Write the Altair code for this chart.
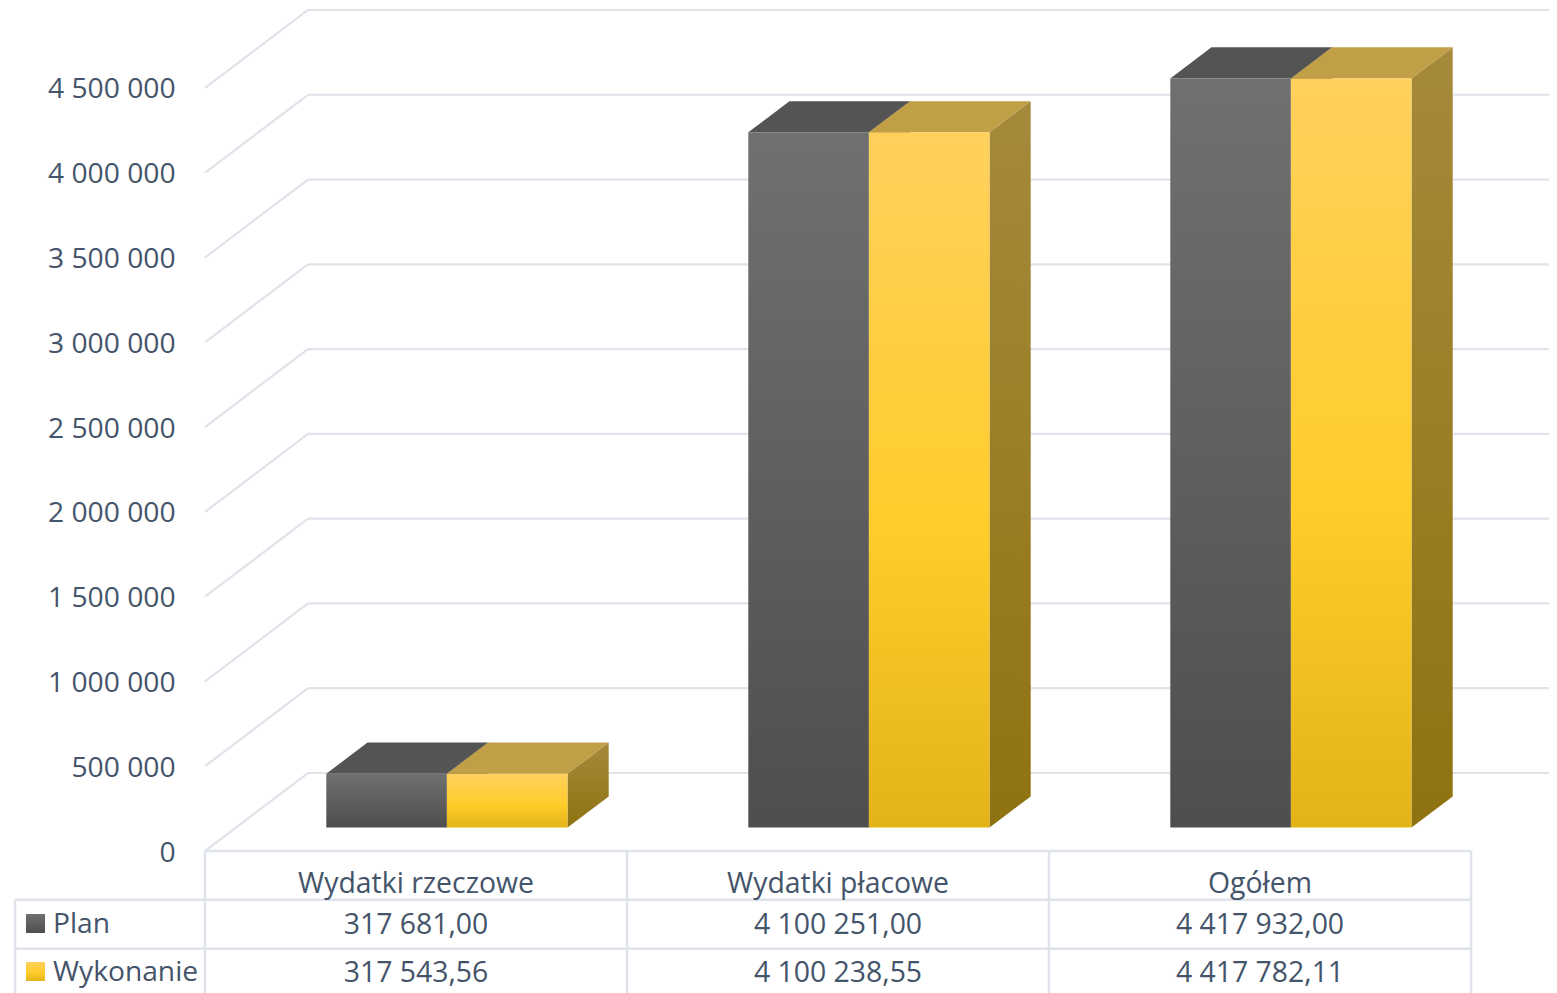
import altair as alt
import pandas as pd

categories = ["Wydatki rzeczowe", "Wydatki płacowe", "Ogółem"]
plan = [317681.00, 4100251.00, 4417932.00]
wykonanie = [317543.56, 4100238.55, 4417782.11]
plan_labels = ["317 681,00", "4 100 251,00", "4 417 932,00"]
wykonanie_labels = ["317 543,56", "4 100 238,55", "4 417 782,11"]
ticks = [0, 500000, 1000000, 1500000, 2000000, 2500000, 3000000, 3500000, 4000000, 4500000]

FONT = "Open Sans"
TEXT = "#44546a"
GRID = "#dfe3ea"
# Oblique projection: one full depth unit, in x-scale and y-scale units
DX = 103 / 422
DY = 460000
X_MAX = 1344 / 422
Y_MAX = 843 / 84.78 * 500000
BAR_W = 0.2858
NEAR, FAR = 0.3, 0.7

VALUE_AXIS = alt.Axis(values=ticks, title=None, grid=False, domain=False, ticks=False,
                      labelFont=FONT, labelFontSize=28.2, labelColor=TEXT, labelPadding=30,
                      labelOffset=2,
                      labelExpr="replace(format(datum.value, ','), /,/g, ' ')")


def X(f):
    return alt.X(f, type="quantitative", stack=False, axis=None,
                 scale=alt.Scale(domain=[0, X_MAX], nice=False, zero=False))


def Y(f):
    return alt.Y(f, type="quantitative", stack=False, axis=VALUE_AXIS,
                 scale=alt.Scale(domain=[0, Y_MAX], nice=False, zero=False))


def R(f):
    return alt.Y(f, type="quantitative", axis=None,
                 scale=alt.Scale(domain=[0, 3], range=[843, 989.5], nice=False, zero=False))


def grad(stops):
    return alt.Gradient(gradient="linear", x1=0, y1=0, x2=0, y2=1,
                        stops=[alt.GradientStop(offset=o, color=c) for o, c in stops])


# ---------- walls ----------
back = pd.DataFrame({"x": DX, "x2": X_MAX, "y": [t + DY for t in ticks]})
diag = pd.DataFrame({"x": 0.0, "x2": DX, "y": ticks, "y2": [t + DY for t in ticks]})
back_rules = alt.Chart(back).mark_rule(color=GRID, strokeWidth=2.2).encode(
    x=X("x"), x2="x2", y=Y("y"))
diag_rules = alt.Chart(diag).mark_rule(color=GRID, strokeWidth=2.2).encode(
    x=X("x"), x2="x2", y=Y("y"), y2="y2")


# ---------- bars ----------
def bar_layers(values, offset, front_stops, top_color, side_stops):
    base = NEAR * DY
    layers, fronts = [], []
    depth_x, depth_y = (FAR - NEAR) * DX, (FAR - NEAR) * DY
    for i, v in enumerate(values):
        xl = i + 0.5 + NEAR * DX + offset * BAR_W
        xr = xl + BAR_W
        top = base + v
        fronts.append({"x": xl, "x2": xr, "y": base, "y2": top})
        top_rows = pd.DataFrame([{"x": xl, "x2": xr, "y": top},
                                 {"x": xl + depth_x, "x2": xr + depth_x, "y": top + depth_y}])
        side_rows = pd.DataFrame([{"x": xr, "y": top, "y2": base},
                                  {"x": xr + depth_x, "y": top + depth_y, "y2": base + depth_y}])
        layers.append(alt.Chart(side_rows).mark_area(
            orient="vertical", fill=grad(side_stops), opacity=1).encode(
            x=X("x"), y=Y("y"), y2="y2"))
        layers.append(alt.Chart(top_rows).mark_area(
            orient="horizontal", fill=top_color, opacity=1).encode(
            y=Y("y"), x=X("x"), x2="x2"))
    layers.append(alt.Chart(pd.DataFrame(fronts)).mark_rect(fill=grad(front_stops)).encode(
        x=X("x"), x2="x2", y=Y("y"), y2="y2"))
    return layers


dark_stops = [(0, "#707070"), (1, "#4e4e4e")]
gold_stops = [(0, "#ffd15c"), (0.58, "#ffcc29"), (1, "#e3b418")]
plan_layers = bar_layers(plan, -1, dark_stops, "#545454", [(0, "#555555"), (1, "#3c3c3c")])
gold_layers = bar_layers(wykonanie, 0, gold_stops, "#c19f46", [(0, "#a68a3c"), (1, "#8f7210")])

# ---------- data table ----------
LEFT = -190 / 422
h_top = pd.DataFrame({"x": [0.0], "x2": [3.0], "r": [0]})
h_rows = pd.DataFrame({"x": LEFT, "x2": 3.0, "r": [1, 2]})
v_cols = pd.DataFrame({"x": [0, 1, 2, 3], "r": 0, "r2": 3})
v_left = pd.DataFrame({"x": [LEFT], "r": [1], "r2": [3]})

table_lines = [
    alt.Chart(h_top).mark_rule(color=GRID, strokeWidth=2.5).encode(x=X("x"), x2="x2", y=R("r")),
    alt.Chart(h_rows).mark_rule(color=GRID, strokeWidth=2.5).encode(x=X("x"), x2="x2", y=R("r")),
    alt.Chart(v_cols).mark_rule(color=GRID, strokeWidth=2.5).encode(x=X("x"), y=R("r"), y2="r2"),
    alt.Chart(v_left).mark_rule(color=GRID, strokeWidth=2.5).encode(x=X("x"), y=R("r"), y2="r2"),
]

cells = pd.DataFrame(
    [{"x": i + 0.5, "r": 0.674, "t": c} for i, c in enumerate(categories)]
    + [{"x": i + 0.5, "r": 1.515, "t": c} for i, c in enumerate(plan_labels)]
    + [{"x": i + 0.5, "r": 2.496, "t": c} for i, c in enumerate(wykonanie_labels)]
)
cell_text = alt.Chart(cells).mark_text(
    font=FONT, fontSize=28.4, color=TEXT, align="center", baseline="middle").encode(
    x=X("x"), y=R("r"), text="t:N")

names = pd.DataFrame({"x": [-152 / 422] * 2, "r": [1.515, 2.496], "t": ["Plan", "Wykonanie"]})
name_text = alt.Chart(names).mark_text(
    font=FONT, fontSize=28.2, color=TEXT, align="left", baseline="middle").encode(
    x=X("x"), y=R("r"), text="t:N")


def swatch(r, stops):
    return alt.Chart(pd.DataFrame({"x": [-169.5 / 422], "r": [r]})).mark_square(
        size=361, fill=grad(stops), opacity=1).encode(x=X("x"), y=R("r"))


swatches = [swatch(1.485, dark_stops), swatch(2.468, gold_stops)]

plot = alt.layer(back_rules, diag_rules, *plan_layers, *gold_layers)
table = alt.layer(*table_lines, cell_text, name_text, *swatches)

chart = alt.layer(plot, table).resolve_scale(y="independent").properties(
    width=1344, height=843,
    autosize=alt.AutoSizeParams(type="none"),
    padding={"left": 197, "top": 0, "right": 0, "bottom": 142},
    background="white",
).configure_view(stroke=None)

chart.save("out.html", embed_options={"renderer": "svg", "actions": False})
